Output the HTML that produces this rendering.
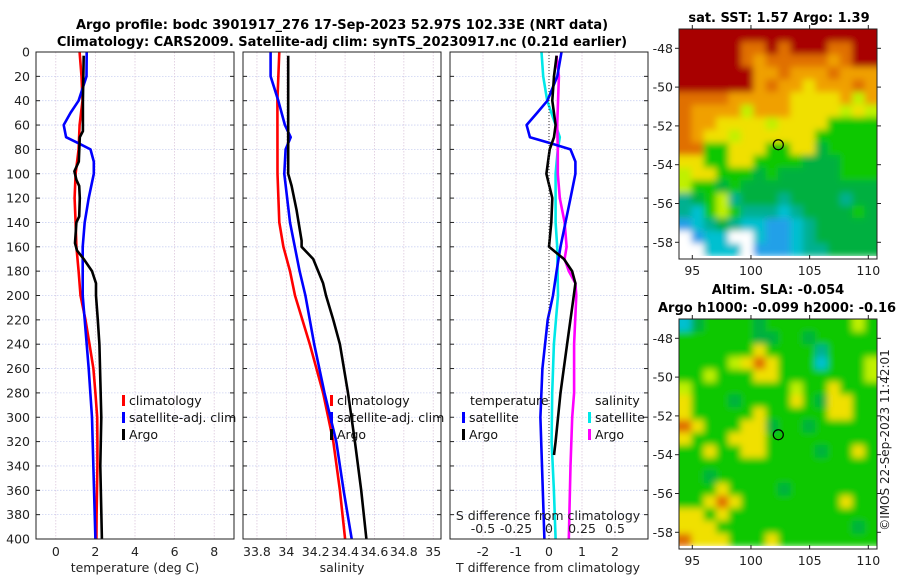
<!DOCTYPE html>
<html><head><meta charset="utf-8"><style>
html,body{margin:0;padding:0;background:#fff;}
svg{display:block;font-family:"DejaVu Sans","Liberation Sans",sans-serif;}
</style></head><body>
<svg id="fig" width="900" height="580" viewBox="0 0 900 580">
<defs>
<filter id="blur" x="-5%" y="-5%" width="110%" height="110%"><feGaussianBlur stdDeviation="3.5"/></filter>
<clipPath id="clip1"><rect x="679" y="29" width="198" height="230"/></clipPath>
<clipPath id="clip2"><rect x="679" y="319" width="198" height="230"/></clipPath>
</defs>
<text x="342" y="29" text-anchor="middle" font-size="13" font-weight="bold">Argo profile: bodc 3901917_276 17-Sep-2023 52.97S 102.33E (NRT data)</text>
<text x="342" y="46" text-anchor="middle" font-size="13" font-weight="bold">Climatology: CARS2009. Satellite-adj clim: synTS_20230917.nc (0.21d earlier)</text>
<text x="779" y="22" text-anchor="middle" font-size="13" font-weight="bold">sat. SST: 1.57 Argo: 1.39</text>
<text x="778" y="294" text-anchor="middle" font-size="13" font-weight="bold">Altim. SLA: -0.054</text>
<text x="658" y="312" font-size="13" font-weight="bold">Argo h1000: -0.099 h2000: -0.16</text>
<text transform="translate(889,440) rotate(-90)" text-anchor="middle" font-size="12" fill="#222">©IMOS 22-Sep-2023 11:42:01</text>
<g id="g"></g>
</svg>
<script>
// ---- data ----
const depthTC=[0,20,40,60,80,100,120,140,160,180,200,220,240,260,280,300,320,340,360,380,400];
const tempClim=[1.2,1.3,1.35,1.2,1.15,1.0,0.95,1.0,1.04,1.15,1.25,1.5,1.7,1.9,2.0,2.09,2.1,2.1,2.08,2.06,2.05];
const depthTS=[0,20,40,50,60,70,75,80,90,100,120,140,160,200,260,300,400];
const tempSat=[1.56,1.55,1.15,0.74,0.4,0.52,1.15,1.75,1.92,1.92,1.66,1.46,1.36,1.36,1.66,1.83,2.0];
const depthTA=[3,40,65,70,90,98,105,110,120,135,140,157,163,170,180,190,200,220,240,300,340,400];
const tempArgo=[1.41,1.37,1.37,1.21,1.16,0.94,1.04,1.18,1.21,1.18,1.04,0.97,1.07,1.41,1.83,2.03,2.03,2.12,2.2,2.3,2.25,2.33];
const depthSC=[0,40,100,140,160,180,200,240,280,320,360,400];
const salClim=[33.952,33.939,33.94,33.952,33.98,34.025,34.059,34.16,34.25,34.32,34.365,34.40];
const depthSS=[0,20,40,60,70,80,100,140,180,200,240,280,320,360,400];
const salSat=[33.893,33.893,33.945,33.99,34.03,33.995,33.986,34.025,34.09,34.13,34.19,34.26,34.34,34.39,34.445];
const depthSA=[3,100,110,130,155,160,170,190,200,220,240,280,320,360,400];
const salArgo=[34.013,34.013,34.036,34.07,34.104,34.104,34.183,34.25,34.27,34.32,34.365,34.42,34.467,34.51,34.545];
const depthDTS=[0,20,40,50,60,70,75,80,90,100,120,140,160,180,200,220,260,300,400];
const dTempSat=[0.38,0.25,-0.05,-0.36,-0.68,-0.58,0.05,0.65,0.8,0.8,0.65,0.5,0.35,0.23,0.12,-0.04,-0.2,-0.26,-0.14];
const depthDTA=[3,20,40,60,70,80,100,120,140,160,170,180,190,200,240,280,320,331];
const dTempArgo=[0.23,0.15,0.1,0.2,0.15,0.02,-0.08,0.1,0.07,0,0.45,0.7,0.8,0.75,0.55,0.35,0.2,0.15];
const depthDSS=[0,20,40,60,70,80,100,140,160,200,240,280,320,360,400];
const dSalSat=[-0.057,-0.044,-0.014,0.05,0.082,0.067,0.05,0.05,0.062,0.068,0.037,0.024,0.02,0.037,0.05];
const depthDSA=[3,20,60,80,100,120,140,160,170,180,190,200,240,280,300,340,400];
const dSalArgo=[0.057,0.075,0.062,0.067,0.067,0.082,0.118,0.133,0.118,0.15,0.2,0.207,0.19,0.19,0.176,0.163,0.15];
const depthTicks=[0,20,40,60,80,100,120,140,160,180,200,220,240,260,280,300,320,340,360,380,400];
const tempTicks=[0,2,4,6,8];
const salTicks=[33.8,34,34.2,34.4,34.6,34.8,35];
const salTickLabels=["33.8","34","34.2","34.4","34.6","34.8","35"];
const dTempTicks=[-2,-1,0,1,2];
const dSalTicks=[-0.5,-0.25,0,0.25,0.5];
const dSalTickLabels=["-0.5","-0.25","0","0.25","0.5"];
const lonTicks=[95,100,105,110];
const latTicks=[-48,-50,-52,-54,-56,-58];
const argoLon=102.33, argoLat=-52.97;
const sstCells=["RRRRRRRRRRRRRRRR","RRRRROORORRROORR","RRRRROoOOOOOoORR","RRRRRRooOoooOooo","RRRRRRoOooYoooOo","OOOOoooooYYYYoyo","OooooyoooYYYYyYy","OooYYYYyYYYYGGGG","OoYYyYYYYYYGGGGG","OOGGYYYGGYYgGGGG","YYGGYYGGGGgggGGG","yYYGGGgGgggggGGG","yGGgGggggggggggg","TgGyTgggTggggTgg","TCGyGTTTCTggggGg","BCTgTCCBBCTggggg","WBCCWWCBBCTggggg","WWCCCWBBBCTTgggg"];
const slaCells=["CgGGGGgGGGGGGGyG","GGGGGGggGGgGGGGG","GGGGGGYGGGGTGGGG","GGGGyYOYGGGCGGGy","GGyGGGYYGGGGGGGy","yGGGGGGGGyGGYGGG","YGGGgGGGGYGgYYGG","YGGGGGYGGGGGYYGG","OYGGGYYgGGgGGGGG","YGGGYYYGGGGGGGGG","GGYGGYYGGGGgGGYG","GGGGGGGGGGGGGGGG","GGgGGGGGGGGGGGGG","GGGYGGGGgGGGGGGG","GGYOYGGGGGGGGYGG","YYGYGGGGGGGGGGGG","YYYGGGGGGGGGGGgG","OYYYGGGYGGGGGGGG"];
const palette={R:"#a80000",O:"#e07000",o:"#f0a000",Y:"#f0e000",y:"#c0f000",G:"#10c800",g:"#00b040",T:"#00b090",C:"#00c0d0",B:"#20a0e8",W:"#ffffff"};

// ---- drawing ----
const NS="http://www.w3.org/2000/svg";
const root=document.getElementById('g');
function mk(tag,attrs,parent,text){const e=document.createElementNS(NS,tag);for(const k in attrs)e.setAttribute(k,attrs[k]);if(text!==undefined)e.textContent=text;(parent||root).appendChild(e);return e;}
const Y0=52,Y1=539;
const yD=d=>Y0+(Y1-Y0)*d/400;
function lin(d0,d1,p0,p1){return v=>p0+(v-d0)*(p1-p0)/(d1-d0);}
const panels=[
 {name:'temperature-panel',x0:36,x1:234,sx:lin(-1,9,36,234)},
 {name:'salinity-panel',x0:243,x1:441,sx:lin(33.705,35.053,243,441)},
 {name:'difference-panel',x0:450,x1:648,sx:lin(-3,3,450,648)}];
panels.forEach((p,i)=>{
 const grp=mk('g',{});
 
 
 p.g=grp;
 depthTicks.forEach(d=>{
  const y=yD(d);
  if(d>0&&d<400){const l=mk('line',{x1:p.x0,x2:p.x1,y1:y,y2:y,stroke:'#ccd2f2','stroke-width':0.8,'stroke-dasharray':'1.5,1.5'},grp);
   }
  mk('line',{x1:p.x0,x2:p.x0+4,y1:y,y2:y,stroke:'#222'},grp);
  mk('line',{x1:p.x1-4,x2:p.x1,y1:y,y2:y,stroke:'#222'},grp);
 });
});
function vgrid(p,vals){vals.forEach(v=>{const x=p.sx(v);const l=mk('line',{x1:x,x2:x,y1:Y0,y2:Y1,stroke:'#dcc8dc','stroke-width':0.8,'stroke-dasharray':'1.5,1.5'},p.g);
 });}
vgrid(panels[0],tempTicks);vgrid(panels[1],salTicks);vgrid(panels[2],dTempTicks);
const zl=mk('line',{x1:panels[2].sx(0),x2:panels[2].sx(0),y1:Y0,y2:Y1,stroke:'#333','stroke-width':1,'stroke-dasharray':'1,2'});

depthTicks.forEach(d=>{const t=mk('text',{x:30,y:yD(d)+4.5,'text-anchor':'end','font-size':12.5,fill:'#222'},root,String(d));
 });
function xlabels(p,vals,labels,y){vals.forEach((v,i)=>{const t=mk('text',{x:p.sx(v),y:y,'text-anchor':'middle','font-size':12.5,fill:'#222'},root,labels[i]);
 });}
xlabels(panels[0],tempTicks,tempTicks.map(String),556);
xlabels(panels[1],salTicks,salTickLabels,556);
xlabels(panels[2],dTempTicks,dTempTicks.map(String),556);
const sdx={sx:v=>panels[2].sx(v*4)};
xlabels(sdx,dSalTicks,dSalTickLabels,533);
function title(x,y,s,n){const t=mk('text',{x:x,y:y,'text-anchor':'middle','font-size':12.5,fill:'#222'},root,s);}
title(135,572,'temperature (deg C)','temperature-axis-title');
title(342,572,'salinity','salinity-axis-title');
title(548,572,'T difference from climatology','t-difference-axis-title');
title(548,520,'S difference from climatology','s-difference-axis-title');
function series(p,xs,ds,color,name,xf){const pts=xs.map((v,i)=>(xf?xf(v):p.sx(v)).toFixed(1)+','+yD(ds[i]).toFixed(1)).join(' ');
 const l=mk('polyline',{points:pts,fill:'none',stroke:color,'stroke-width':2.6,'stroke-linejoin':'round'},p.g);
 }
series(panels[0],tempClim,depthTC,'#ff0000','temp-climatology-line');
series(panels[0],tempSat,depthTS,'#0000ff','temp-satellite-line');
series(panels[0],tempArgo,depthTA,'#000000','temp-argo-line');
series(panels[1],salClim,depthSC,'#ff0000','sal-climatology-line');
series(panels[1],salSat,depthSS,'#0000ff','sal-satellite-line');
series(panels[1],salArgo,depthSA,'#000000','sal-argo-line');
series(panels[2],dSalSat,depthDSS,'#00e8e8','sal-diff-satellite-line',v=>sdx.sx(v));
series(panels[2],dSalArgo,depthDSA,'#ff00ff','sal-diff-argo-line',v=>sdx.sx(v));
series(panels[2],dTempSat,depthDTS,'#0000ff','temp-diff-satellite-line');
series(panels[2],dTempArgo,depthDTA,'#000000','temp-diff-argo-line');
panels.forEach(p=>mk('rect',{x:p.x0,y:Y0,width:p.x1-p.x0,height:Y1-Y0,fill:'none',stroke:'#222','stroke-width':1}));
function legend(x,y,entries,name){const g=mk('g',{});
 entries.forEach((e,i)=>{const yy=y+i*17;
  if(e[1]){mk('rect',{x:x,y:yy-10,width:3,height:11,fill:e[1]},g);}
  const t=mk('text',{x:x+(e[1]?7:0),y:yy,'font-size':12.5,fill:'#111'},g,e[0]);
  });}
legend(122,405,[['climatology','#ff0000'],['satellite-adj. clim','#0000ff'],['Argo','#000']],'temp-legend');
legend(330,405,[['climatology','#ff0000'],['satellite-adj. clim','#0000ff'],['Argo','#000']],'sal-legend');
mk('text',{x:470,y:405,'font-size':12.5,fill:'#111'},root,'temperature');
mk('text',{x:595,y:405,'font-size':12.5,fill:'#111'},root,'salinity');
legend(462,422,[['satellite','#0000ff'],['Argo','#000']],'temp-diff-legend');
legend(588,422,[['satellite','#00e8e8'],['Argo','#ff00ff']],'sal-diff-legend');
function map(y0,cells,name,clip){
 const X0=679,X1=877,Y1m=y0+230;
 const lonX=lin(95,110,692.3,868.3), latY=lin(-48,-58,y0+19.3,y0+213.3);
 const g=mk('g',{});
 const cg=mk('g',{'clip-path':'url(#'+clip+')'},g);
 const bg=mk('g',{filter:'url(#blur)'},cg);
 const cols=cells[0].length,rows=cells.length,cw=(X1-X0)/cols,ch=(Y1m-y0-3)/rows;
 cells.forEach((row,r)=>{for(let c=0;c<cols;c++){
  const x=X0+c*cw-(c==0?8:0), w=cw+0.5+(c==0||c==cols-1?8:0);
  const y=y0+r*ch-(r==0?8:0), h=ch+0.5+(r==0?8:0);
  mk('rect',{x:x,y:y,width:w,height:h,fill:palette[row[c]]},bg);}});
 mk('rect',{x:X0,y:Y1m-3,width:X1-X0,height:3,fill:'#fff'},cg);
 mk('rect',{x:X0,y:y0,width:X1-X0,height:230,fill:'none',stroke:'#222'},g);
 lonTicks.forEach(v=>{const x=lonX(v);mk('line',{x1:x,x2:x,y1:Y1m,y2:Y1m-4,stroke:'#222'},g);mk('line',{x1:x,x2:x,y1:y0,y2:y0-4,stroke:'#222'},g);
  const t=mk('text',{x:x,y:Y1m+16,'text-anchor':'middle','font-size':12.5,fill:'#222'},g,String(v));});
 latTicks.forEach(v=>{const y=latY(v);mk('line',{x1:X0,x2:X0-4,y1:y,y2:y,stroke:'#222'},g);mk('line',{x1:X1,x2:X1+4,y1:y,y2:y,stroke:'#222'},g);
  const t=mk('text',{x:673,y:y+4.5,'text-anchor':'end','font-size':12.5,fill:'#222'},g,String(v));});
 const c=mk('circle',{cx:lonX(argoLon),cy:latY(argoLat),r:5,fill:'none',stroke:'#000','stroke-width':1.2},g);
 
}
map(29,sstCells,'sst-map','clip1');
map(319,slaCells,'sla-map','clip2');
</script>
</body></html>
